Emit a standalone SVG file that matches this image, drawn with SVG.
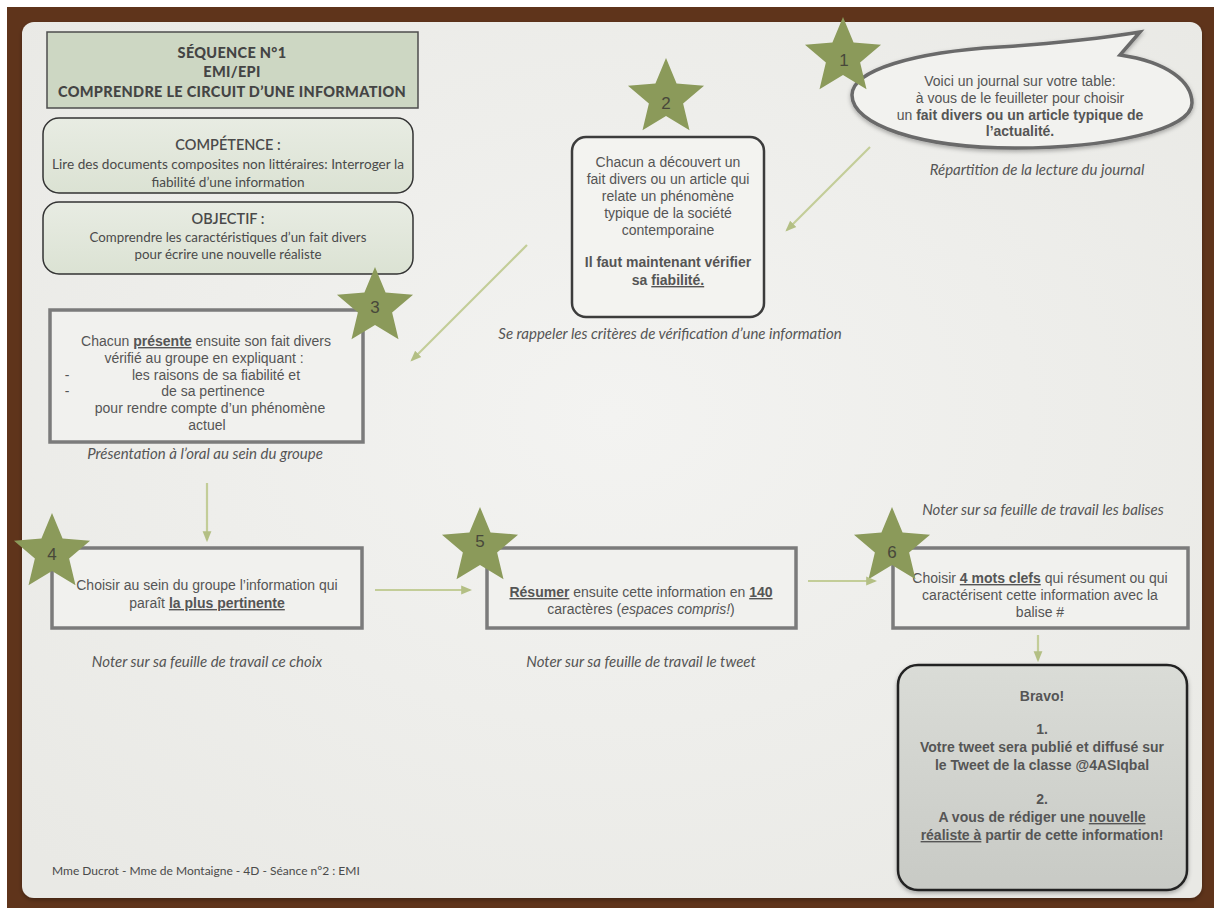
<svg xmlns="http://www.w3.org/2000/svg" width="1214" height="908" viewBox="0 0 1214 908">
<defs>
<style>
.h{font-family:"Liberation Sans",Arial,sans-serif;font-size:14px;fill:#555;text-anchor:middle}
.g{font-family:Lato,"Open Sans",sans-serif;fill:#4a4a4a;text-anchor:middle}
.t{font-family:Lato,"Open Sans",sans-serif;font-weight:900;font-size:14.5px;letter-spacing:0.3px;fill:#444;text-anchor:middle}
.cap{font-family:Lato,"Open Sans",sans-serif;font-style:italic;font-size:15px;fill:#555;text-anchor:middle}
.b{font-weight:bold}
.u{text-decoration:underline}
.num{font-family:"Liberation Sans",Arial,sans-serif;font-size:17px;fill:#48483a;text-anchor:middle}
.box{fill:#f1f1ee;stroke:#7b7b7b;stroke-width:3.5}
.conn line{stroke:#c3cd98;stroke-width:2.2;marker-end:url(#ah)}
</style>
<radialGradient id="paper" cx="50%" cy="45%" r="70%">
<stop offset="0" stop-color="#f3f3f1"/><stop offset="1" stop-color="#e9e9e5"/>
</radialGradient>
<linearGradient id="green" x1="0" y1="0" x2="0" y2="1">
<stop offset="0" stop-color="#e8ece3"/><stop offset="1" stop-color="#dbe2d3"/>
</linearGradient>
<linearGradient id="grey" x1="0" y1="0" x2="0" y2="1">
<stop offset="0" stop-color="#dadcd7"/><stop offset="1" stop-color="#c8cac5"/>
</linearGradient>
<filter id="sh" x="-10%" y="-10%" width="120%" height="125%">
<feDropShadow dx="0" dy="2" stdDeviation="2" flood-color="#000" flood-opacity="0.3"/>
</filter>
<path id="star" d="M0,-40 L10.58,-14.56 L38.04,-12.36 L17.12,5.56 L23.51,32.36 L0,18 L-23.51,32.36 L-17.12,5.56 L-38.04,-12.36 L-10.58,-14.56 Z" fill="#8b9a5a"/>
<marker id="ah" viewBox="0 0 10 10" refX="8" refY="5" markerWidth="11" markerHeight="11" markerUnits="userSpaceOnUse" orient="auto">
<path d="M0,1 L10,5 L0,9 Z" fill="#b3bf84"/>
</marker>
</defs>

<rect x="0" y="0" width="1214" height="908" fill="#ffffff"/>
<rect x="7" y="7" width="1207" height="901" fill="#5f341b"/>
<rect x="22" y="22" width="1180" height="876" rx="12" fill="url(#paper)" filter="url(#sh)"/>

<g id="title">
<rect x="47" y="32" width="371" height="76" fill="#cdd7c3" stroke="#4d4d4d" stroke-width="1.5"/>
<text class="t" x="232" y="58">SÉQUENCE N°1</text>
<text class="t" x="232" y="77">EMI/EPI</text>
<text class="t" x="232" y="97">COMPRENDRE LE CIRCUIT D’UNE INFORMATION</text>
</g>

<g id="competence">
<rect x="43" y="118" width="370" height="75" rx="16" fill="url(#green)" stroke="#333" stroke-width="1.5"/>
<text class="g" font-size="14.5" font-weight="600" x="228" y="150">COMPÉTENCE :</text>
<text class="g" font-size="13.6" x="228" y="169">Lire des documents composites non littéraires: Interroger la</text>
<text class="g" font-size="13.6" x="228" y="187">fiabilité d’une information</text>
</g>

<g id="objectif">
<rect x="43" y="202" width="370" height="72" rx="16" fill="url(#green)" stroke="#333" stroke-width="1.5"/>
<text class="g" font-size="14.5" font-weight="600" x="228" y="224">OBJECTIF :</text>
<text class="g" font-size="13.3" x="228" y="242">Comprendre les caractéristiques d’un fait divers</text>
<text class="g" font-size="13.3" x="228" y="259">pour écrire une nouvelle réaliste</text>
</g>

<g id="step1">
<path d="M852,95 C852,70 915,52 1000,47 C1060,43 1110,37 1140,32 L1120,55 C1168,62 1192,82 1192,103 C1192,130 1108,148 1015,148 C920,148 852,125 852,95 Z" fill="#f2f2ef" stroke="#6a6a6a" stroke-width="3.5" filter="url(#sh)"/>
<text class="h" x="1020" y="86">Voici un journal sur votre table:</text>
<text class="h" x="1020" y="103">à vous de le feuilleter pour choisir</text>
<text class="h" x="1020" y="120">un <tspan class="b">fait divers ou un article typique de</tspan></text>
<text class="h b" x="1020" y="136">l’actualité.</text>
<use href="#star" x="843" y="57"/>
<text class="num" x="844" y="66">1</text>
<text class="cap" x="1037" y="175">Répartition de la lecture du journal</text>
</g>

<g id="step2">
<rect x="572" y="137" width="192" height="180" rx="14" fill="#f3f3f0" stroke="#3c3c3c" stroke-width="2.5"/>
<text class="h" x="668" y="167">Chacun a découvert un</text>
<text class="h" x="668" y="184">fait divers ou un article qui</text>
<text class="h" x="668" y="201">relate un phénomène</text>
<text class="h" x="668" y="218">typique de la société</text>
<text class="h" x="668" y="235">contemporaine</text>
<text class="h b" x="668" y="267">Il faut maintenant vérifier</text>
<text class="h b" x="668" y="285">sa <tspan class="u">fiabilité.</tspan></text>
<use href="#star" x="666" y="98"/>
<text class="num" x="666" y="109">2</text>
<text class="cap" x="670" y="339">Se rappeler les critères de vérification d’une information</text>
</g>

<g id="step3">
<rect class="box" x="50" y="310" width="313" height="132"/>
<text class="h" x="206" y="346">Chacun <tspan class="b u">présente</tspan> ensuite son fait divers</text>
<text class="h" x="204" y="363">vérifié au groupe en expliquant :</text>
<text class="h" x="67" y="380" fill="#999">-</text>
<text class="h" x="216" y="380">les raisons de sa fiabilité et</text>
<text class="h" x="67" y="396" fill="#999">-</text>
<text class="h" x="213" y="396">de sa pertinence</text>
<text class="h" x="210" y="413">pour rendre compte d’un phénomène</text>
<text class="h" x="207" y="430">actuel</text>
<use href="#star" x="375" y="307"/>
<text class="num" x="375" y="313">3</text>
<text class="cap" x="205" y="459">Présentation à l’oral au sein du groupe</text>
</g>

<g id="step4">
<rect class="box" x="52" y="548" width="310" height="80"/>
<text class="h" x="207" y="590">Choisir au sein du groupe l’information qui</text>
<text class="h" x="207" y="608">paraît <tspan class="b u">la plus pertinente</tspan></text>
<use href="#star" x="52" y="553"/>
<text class="num" x="52" y="560">4</text>
<text class="cap" x="207" y="667">Noter sur sa feuille de travail ce choix</text>
</g>

<g id="step5">
<rect class="box" x="487" y="548" width="309" height="80"/>
<text class="h" x="641" y="597"><tspan class="b u">Résumer</tspan> ensuite cette information en <tspan class="b u">140</tspan></text>
<text class="h" x="641" y="614">caractères (<tspan font-style="italic">espaces compris!</tspan>)</text>
<use href="#star" x="480" y="547"/>
<text class="num" x="480" y="547">5</text>
<text class="cap" x="641" y="667">Noter sur sa feuille de travail le tweet</text>
</g>

<g id="step6">
<rect class="box" x="893" y="548" width="295" height="80"/>
<text class="h" x="1040" y="583">Choisir <tspan class="b u">4 mots clefs</tspan> qui résument ou qui</text>
<text class="h" x="1040" y="600">caractérisent cette information avec la</text>
<text class="h" x="1040" y="617">balise #</text>
<use href="#star" x="892" y="547"/>
<text class="num" x="892" y="558">6</text>
<text class="cap" x="1043" y="515">Noter sur sa feuille de travail les balises</text>
</g>

<g id="bravo">
<rect x="898" y="665" width="289" height="225" rx="20" fill="url(#grey)" stroke="#222" stroke-width="2.5" filter="url(#sh)"/>
<g class="h b" font-size="15">
<text x="1042" y="701">Bravo!</text>
<text x="1042" y="734">1.</text>
<text x="1042" y="752">Votre tweet sera publié et diffusé sur</text>
<text x="1042" y="770">le Tweet de la classe @4ASIqbal</text>
<text x="1042" y="804">2.</text>
<text x="1042" y="822">A vous de rédiger une <tspan class="u">nouvelle</tspan></text>
<text x="1042" y="840"><tspan class="u">réaliste à</tspan> partir de cette information!</text>
</g>
</g>

<g id="footer">
<text class="g" font-size="12" x="52" y="875" style="text-anchor:start">Mme Ducrot - Mme de Montaigne - 4D - Séance n°2 : EMI</text>
</g>

<g id="connectors" class="conn">
<line x1="870" y1="147" x2="787" y2="230"/>
<line x1="527" y1="245" x2="412" y2="360"/>
<line x1="207" y1="483" x2="207" y2="540"/>
<line x1="375" y1="590" x2="470" y2="590"/>
<line x1="808" y1="581" x2="875" y2="581"/>
<line x1="1038" y1="635" x2="1038" y2="660"/>
</g>
</svg>
